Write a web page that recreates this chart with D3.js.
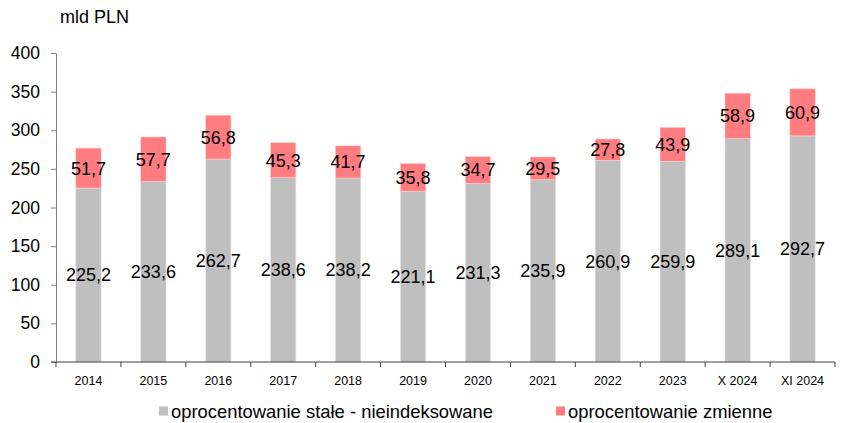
<!DOCTYPE html>
<html>
  <head>
    <meta charset="utf-8">
    <title>Kredyty mieszkaniowe</title>
    <script src="https://d3js.org/d3.v7.min.js"></script>
    <style>
      body { margin: 0; background: #fff; }
      svg text { font-family: "Liberation Sans", Arial, sans-serif; fill: #000; }
      .axis path, .axis line { stroke: #808080; }
      .xaxis line { stroke: #404040; }
    </style>
  </head>
  <body>
    <svg id="svg" width="848" height="423"></svg>
    <script>
      // data
      var categories = ["2014", "2015", "2016", "2017", "2018", "2019", "2020", "2021", "2022", "2023", "X 2024", "XI 2024"];
      var stale = [225.2, 233.6, 262.7, 238.6, 238.2, 221.1, 231.3, 235.9, 260.9, 259.9, 289.1, 292.7];
      var zmienne = [51.7, 57.7, 56.8, 45.3, 41.7, 35.8, 34.7, 29.5, 27.8, 43.9, 58.9, 60.9];
      var yTicks = [0, 50, 100, 150, 200, 250, 300, 350, 400];
      var seriesNames = ["oprocentowanie stałe - nieindeksowane", "oprocentowanie zmienne"];
      var colours = ["#bfbfbf", "#ff7c80"];

      var svg = d3.select("#svg");
      var plotLeft = 56, plotRight = 835, plotTop = 53, plotBottom = 362;

      var x = d3.scaleBand()
        .domain(categories)
        .range([plotLeft, plotRight])
        .paddingInner(0.61)
        .paddingOuter(0.305);
      var xAxisScale = d3.scaleBand().domain(categories).range([plotLeft, plotRight]);
      var y = d3.scaleLinear().domain([0, 400]).range([plotBottom, plotTop]);

      // y axis
      var yAxis = svg.append("g")
        .attr("class", "axis")
        .attr("transform", "translate(" + plotLeft + ",0)")
        .call(d3.axisLeft(y).tickValues(yTicks).tickSize(5).tickPadding(11).tickSizeOuter(0));
      yAxis.selectAll("text").style("font-size", "17.5px");

      // bars
      var rows = categories.map(function(c, i) { return { cat: c, s: stale[i], z: zmienne[i] }; });
      var g = svg.append("g");
      g.selectAll(".stale")
          .data(rows)
        .enter().append("rect")
          .attr("x", function(d) { return x(d.cat); })
          .attr("width", x.bandwidth())
          .attr("y", function(d) { return y(d.s); })
          .attr("height", function(d) { return y(0) - y(d.s); })
          .attr("fill", colours[0])
          .attr("stroke", "#e6e6e6").attr("stroke-width", 0.6);
      g.selectAll(".zmienne")
          .data(rows)
        .enter().append("rect")
          .attr("x", function(d) { return x(d.cat); })
          .attr("width", x.bandwidth())
          .attr("y", function(d) { return y(d.s + d.z); })
          .attr("height", function(d) { return y(d.s) - y(d.s + d.z); })
          .attr("fill", colours[1])
          .attr("stroke", "#ffd0d0").attr("stroke-width", 0.6);

      // value labels
      var fmt = function(v) { return v.toFixed(1).replace(".", ","); };
      g.selectAll(".lblS")
          .data(rows)
        .enter().append("text")
          .attr("x", function(d) { return x(d.cat) + x.bandwidth() / 2; })
          .attr("y", function(d) { return y(d.s / 2); })
          .attr("dy", "0.36em")
          .attr("text-anchor", "middle")
          .style("font-size", "18px")
          .text(function(d) { return fmt(d.s); });
      g.selectAll(".lblZ")
          .data(rows)
        .enter().append("text")
          .attr("x", function(d) { return x(d.cat) + x.bandwidth() / 2; })
          .attr("y", function(d) { return y(d.s + d.z / 2); })
          .attr("dy", "0.36em")
          .attr("text-anchor", "middle")
          .style("font-size", "18px")
          .text(function(d) { return fmt(d.z); });

      // x axis
      var xAxis = svg.append("g")
        .attr("class", "xaxis")
        .attr("transform", "translate(0," + plotBottom + ")");
      xAxis.append("line")
        .attr("x1", plotLeft - 5).attr("x2", plotRight)
        .attr("y1", 0).attr("y2", 0);
      xAxis.selectAll(".tk")
          .data(categories.concat(["end"]))
        .enter().append("line")
          .attr("x1", function(d, i) { return i < categories.length ? xAxisScale(d) : plotRight; })
          .attr("x2", function(d, i) { return i < categories.length ? xAxisScale(d) : plotRight; })
          .attr("y1", 0).attr("y2", 5);
      xAxis.selectAll(".xl")
          .data(categories)
        .enter().append("text")
          .attr("x", function(d) { return xAxisScale(d) + xAxisScale.bandwidth() / 2; })
          .attr("y", 23)
          .attr("text-anchor", "middle")
          .style("font-size", "12.5px")
          .text(function(d) { return d; });

      // unit label
      svg.append("text")
        .attr("x", 60).attr("y", 23)
        .style("font-size", "18px")
        .text("mld PLN");

      // legend
      var legendX = [159, 556];
      var legend = svg.selectAll(".legend")
          .data(seriesNames)
        .enter().append("g")
          .attr("transform", function(d, i) { return "translate(" + legendX[i] + ",411)"; });
      legend.append("rect")
        .attr("x", 0).attr("y", -4.5)
        .attr("width", 9).attr("height", 9)
        .attr("fill", function(d, i) { return colours[i]; });
      legend.append("text")
        .attr("x", 12).attr("dy", "0.36em")
        .style("font-size", "18.4px")
        .text(function(d) { return d; });
    </script>
  </body>
</html>
